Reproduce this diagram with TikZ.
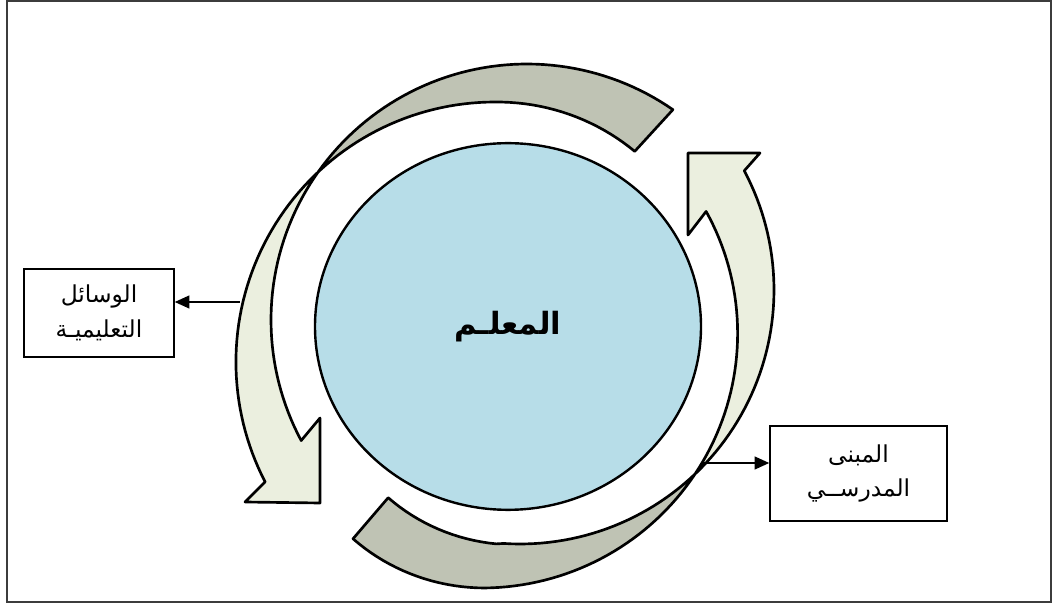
\documentclass[tikz,border=0pt]{standalone}
\usepackage{fontspec}
\newfontfamily\arabicfont[Script=Arabic]{DejaVu Sans}
\TeXXeTstate=1
\usetikzlibrary{shapes.geometric,arrows.meta}
\definecolor{bandgray}{RGB}{191,195,180}
\definecolor{bandlight}{RGB}{235,239,223}
\definecolor{teacherblue}{RGB}{183,221,232}
\definecolor{framegray}{RGB}{60,60,60}

\tikzset{
  declare function={
    rAtwo(\t)=ifthenelse(\t>-90, 258-8*((\t+90)/33.43)*((\t+90)/33.43), 258+4*(-90-\t)/117.7);
    rBone(\t)=ifthenelse(\t>90, 258-11*((\t-90)/32.3)*((\t-90)/32.3), 258-3.5*(90-\t)/58.5);
    rBtwo(\t)=ifthenelse(\t>95, 255-9*((\t-95)/27.4)*((\t-95)/27.4), 254);
  },
  ribbonline/.style={line width=2pt, line join=round},
  labelbox/.style={draw, line width=1pt, fill=white, inner sep=2pt, align=center,
    font=\arabicfont\fontsize{17.5}{26}\selectfont},
  conn/.style={line width=1.6pt, -{Triangle[length=11pt,width=9.5pt]}},
}

% left/top ribbon: gray back band over the top, light band with head on the left
\newcommand\ribbonA{plot[domain=-55.25:-208.1,samples=90,variable=\t] ({527+256*cos(\t)},{320+256*sin(\t)}) -- (320,418) -- (320,503) -- (245,502) -- plot[domain=-207.74:-56.57,samples=90,variable=\t] ({497+rAtwo(\t)*cos(\t)},{360+rAtwo(\t)*sin(\t)}) -- cycle}
% right/bottom ribbon: gray back band along the bottom, light band with head on the right
\newcommand\ribbonB{plot[domain=122.3:-28.2,samples=90,variable=\t] ({485+rBone(\t)*cos(\t)},{330+rBone(\t)*sin(\t)}) -- (688,235) -- (688,153) -- (760,153) -- plot[domain=-28:122.4,samples=90,variable=\t] ({520+rBtwo(\t)*cos(\t)},{290+rBtwo(\t)*sin(\t)}) -- cycle}

\begin{document}
\begin{tikzpicture}[x=0.75pt,y=-0.75pt]
\useasboundingbox (0,0) rectangle (1058,605);
\draw[line width=1.5pt, framegray] (6.5,1.5) rectangle (1050.5,602.5);

% ribbon A
\begin{scope}
  \clip (-280,-330) -- (920,670) -- (1420,70) -- (220,-930) -- cycle;
  \fill[bandgray] \ribbonA;
\end{scope}
\begin{scope}
  \clip (-280,-330) -- (920,670) -- (420,1270) -- (-780,270) -- cycle;
  \fill[bandlight] \ribbonA;
\end{scope}
\draw[ribbonline] \ribbonA;

% ribbon B
\begin{scope}
  \clip (52,-37) -- (1352,963) -- (852,1613) -- (-448,613) -- cycle;
  \fill[bandgray] \ribbonB;
\end{scope}
\begin{scope}
  \clip (52,-37) -- (1352,963) -- (1852,313) -- (552,-687) -- cycle;
  \fill[bandlight] \ribbonB;
\end{scope}
\draw[ribbonline] \ribbonB;

% teacher
\node[ellipse, draw, line width=1.8pt, fill=teacherblue, minimum width=289.5pt,
  minimum height=275pt, inner sep=0pt, font=\arabicfont\bfseries\fontsize{23}{26}\selectfont]
  (teacher) at (508,326.5) {\beginR المعلـم\endR};

% labels
\node[labelbox, minimum width=112.5pt, minimum height=66pt] (aids) at (99,313)
  {\beginR الوسائل\endR\\\beginR التعليميـة\endR};
\node[labelbox, minimum width=132.75pt, minimum height=71.25pt] (building) at (858.5,473.5)
  {\beginR المبنى\endR\\\beginR المدرســي\endR};

\coordinate (aidsfrom) at (240,302);
\coordinate (bldfrom) at (702,463);
\draw[conn] (aidsfrom) -- (aidsfrom -| aids.east);
\draw[conn] (bldfrom) -- (bldfrom -| building.west);
\end{tikzpicture}
\end{document}
